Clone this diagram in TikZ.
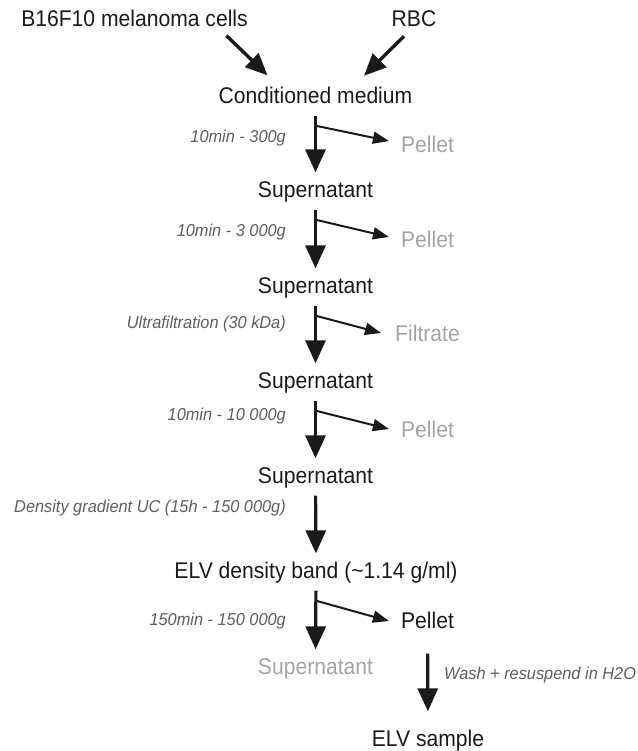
\documentclass[tikz,border=0pt]{standalone}
\usepackage{fontspec}
\setmainfont{Liberation Sans}
\newfontfamily\stagefont[FakeStretch=0.93]{Liberation Sans}
\newfontfamily\condfont[FakeStretch=0.95]{Liberation Sans}
\usepackage{xcolor}
\usetikzlibrary{arrows.meta,positioning}
\definecolor{ink}{HTML}{1A1A1A}
\definecolor{condgray}{HTML}{5E5E5E}
\definecolor{wastegray}{HTML}{A4A4A4}

\begin{document}
\begin{tikzpicture}[x=1pt, y=-1pt,
	stage/.style={inner sep=0pt, text height=16pt, text depth=3pt, text=ink, font=\stagefont\fontsize{22.7}{26}\selectfont},
	waste/.style={stage, text=wastegray},
	cond/.style={inner sep=0pt, text=condgray, font=\condfont\fontsize{17.2}{20}\selectfont\itshape},
	flow/.style={-{Triangle[length=23pt, width=20pt]}, line width=3.2pt, draw=ink, shorten <=9pt, shorten >=9pt},
	feed/.style={-{Triangle[length=22pt, width=19pt]}, line width=3.4pt, draw=ink},
	side/.style={-{Triangle[length=16pt, width=12pt]}, line width=2pt, draw=ink}]
	\useasboundingbox (0,0) rectangle (637,751);

	% sources
	\node[stage] (b16) at (134.5, 20) {B16F10 melanoma cells};
	\node[stage] (rbc) at (414, 20) {RBC};
	\node[stage] (cm) at (315.5, 97) {Conditioned medium};

	\draw[feed] ([xshift=92pt, yshift=-6pt]b16.south) -- ([xshift=-48pt, yshift=12pt]cm.north);
	\draw[feed] ([xshift=-10pt, yshift=-6.5pt]rbc.south) -- ([xshift=48.5pt, yshift=11.5pt]cm.north);

	% main chain
	\node[stage] (s1) at (315.5, 191) {Supernatant};
	\node[stage] (s2) at (315.5, 287) {Supernatant};
	\node[stage] (s3) at (315.5, 382) {Supernatant};
	\node[stage] (s4) at (315.5, 477) {Supernatant};
	\node[stage] (elv) at (316, 572) {ELV density band (\textasciitilde 1.14 g/ml)};
	\node[waste] (s5) at (315.5, 668) {Supernatant};

	% side products
	\node[waste] (p1) at (427.5, 146) {Pellet};
	\node[waste] (p2) at (427.5, 241) {Pellet};
	\node[waste] (f3) at (427.5, 335) {Filtrate};
	\node[waste] (p4) at (427.5, 431) {Pellet};
	\node[stage] (p6) at (427.5, 622) {Pellet};
	\node[stage] (elvs) at (428, 740) {ELV sample};

	% conditions
	\node[cond, anchor=east] (c1) at (286, 138) {10min - 300g};
	\node[cond, anchor=east] (c2) at (286, 232) {10min - 3 000g};
	\node[cond, anchor=east] (c3) at (286, 324) {Ultrafiltration (30 kDa)};
	\node[cond, anchor=east] (c4) at (286, 416) {10min - 10 000g};
	\node[cond, anchor=east] (c5) at (286, 508) {Density gradient UC (15h - 150 000g)};
	\node[cond, anchor=east] (c6) at (286, 621) {150min - 150 000g};
	\node[cond, anchor=west] (c7) at (444, 675) {Wash + resuspend in H2O};

	\draw[flow] (cm) -- (s1);
	\draw[flow] (s1) -- (s2);
	\draw[flow] (s2) -- (s3);
	\draw[flow] (s3) -- (s4);
	\draw[flow] (s4) -- (elv);
	\draw[flow] (elv) -- (s5);
	\draw[flow, shorten <=22pt, shorten >=19pt] (p6) -- (elvs);

	\draw[side] ([yshift=-19pt]cm.south) -- ([xshift=-12pt, yshift=5pt]p1.west);
	\draw[side] ([yshift=-19pt]s1.south) -- ([xshift=-12pt, yshift=4pt]p2.west);
	\draw[side] ([yshift=-19pt]s2.south) -- ([xshift=-14pt, yshift=2pt]f3.west);
	\draw[side] ([yshift=-19pt]s3.south) -- ([xshift=-12pt, yshift=2pt]p4.west);
	\draw[side] ([yshift=-19pt]elv.south) -- ([xshift=-12pt, yshift=1pt]p6.west);

\end{tikzpicture}
\end{document}
